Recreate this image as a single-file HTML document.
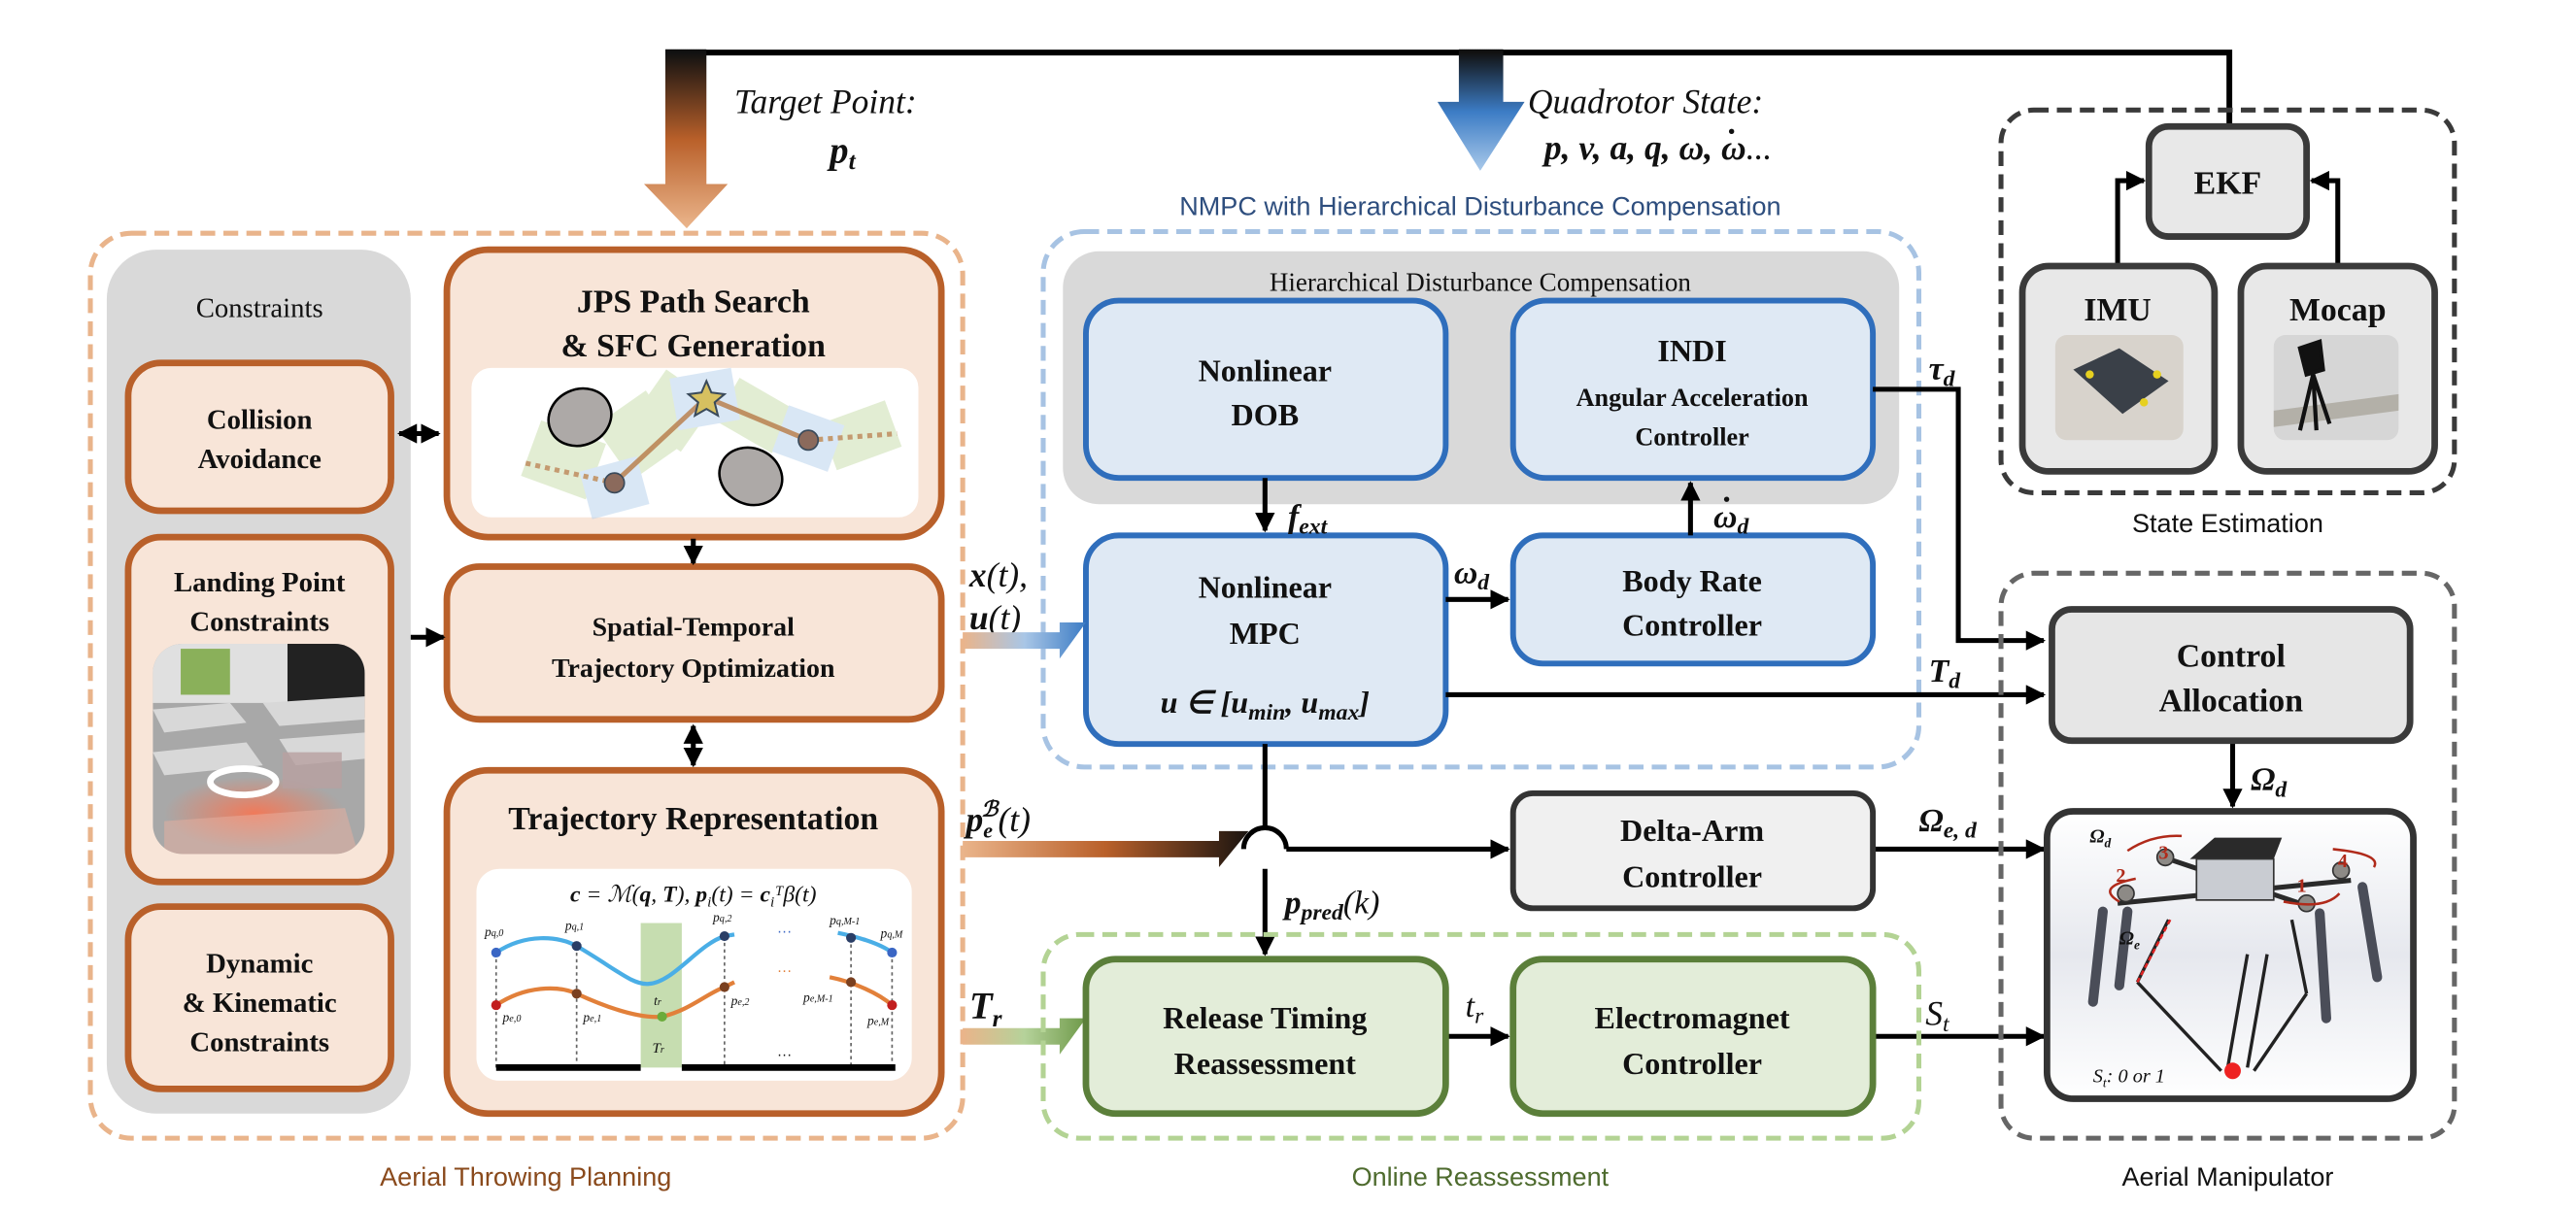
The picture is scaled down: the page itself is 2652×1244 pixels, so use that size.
<!DOCTYPE html>
<html><head><meta charset="utf-8"><style>
html,body{margin:0;padding:0;background:#fff}
svg{display:block}
.t{font-family:"Liberation Serif",serif;font-weight:bold;fill:#111;text-anchor:middle}
.m{font-family:"Liberation Serif",serif;font-style:italic;fill:#111}
.s{font-family:"Liberation Sans",sans-serif;text-anchor:middle}
</style></head><body>
<svg width="2652" height="1244" viewBox="0 0 1568 735.5" xmlns="http://www.w3.org/2000/svg">
<defs>
<linearGradient id="go" x1="0" y1="32" x2="0" y2="138" gradientUnits="userSpaceOnUse"><stop offset="0" stop-color="#111"/><stop offset="0.5" stop-color="#b9602a"/><stop offset="1" stop-color="#eab48a"/></linearGradient>
<linearGradient id="gb" x1="0" y1="32" x2="0" y2="104" gradientUnits="userSpaceOnUse"><stop offset="0" stop-color="#111"/><stop offset="0.5" stop-color="#3c7cc5"/><stop offset="1" stop-color="#a9c9ea"/></linearGradient>
<linearGradient id="gxu" x1="586" y1="0" x2="661" y2="0" gradientUnits="userSpaceOnUse"><stop offset="0" stop-color="#eab48a"/><stop offset="0.5" stop-color="#a9c6e6"/><stop offset="1" stop-color="#3c7cc5"/></linearGradient>
<linearGradient id="gpe" x1="586" y1="0" x2="760" y2="0" gradientUnits="userSpaceOnUse"><stop offset="0" stop-color="#eab48a"/><stop offset="0.5" stop-color="#b9602a"/><stop offset="1" stop-color="#1a1410"/></linearGradient>
<linearGradient id="gtr" x1="586" y1="0" x2="661" y2="0" gradientUnits="userSpaceOnUse"><stop offset="0" stop-color="#eab48a"/><stop offset="0.5" stop-color="#b5d29a"/><stop offset="1" stop-color="#6f9a4a"/></linearGradient>
<radialGradient id="glow" cx="0.5" cy="0.5" r="0.5"><stop offset="0" stop-color="#f07a5a"/><stop offset="1" stop-color="#f07a5a" stop-opacity="0"/></radialGradient>
<linearGradient id="man" x1="0" y1="0" x2="0" y2="1"><stop offset="0" stop-color="#fff"/><stop offset="0.5" stop-color="#e6e8ee"/><stop offset="1" stop-color="#fff"/></linearGradient>
<marker id="ah" viewBox="0 0 10 10" refX="9" refY="5" markerWidth="4" markerHeight="4" orient="auto-start-reverse"><path d="M0,0 L10,5 L0,10 z" fill="#000"/></marker>
</defs>

<path d="M405,32 H1357 V76" fill="none" stroke="#000" stroke-width="3.5"/>
<path d="M405,30 H430 V112 H443 L418,139 L392,112 H405 Z" fill="url(#go)"/>
<path d="M888,30 H915 V62 H928 L901,104 L875,62 H888 Z" fill="url(#gb)"/>
<text class="m" x="447" y="69" font-size="21">Target Point:</text>
<text class="m" x="505" y="99" font-size="23" font-weight="bold">p<tspan font-size="15" dy="4">t</tspan></text>
<text class="m" x="930" y="69" font-size="21">Quadrotor State:</text>
<text class="m" x="940" y="97" font-size="21" font-weight="bold">p, v, a, q, ω, ω<tspan font-weight="normal">...</tspan></text>
<circle cx="1054" cy="80" r="1.6" fill="#111"/>
<text class="s" x="901" y="131" font-size="16" fill="#2e4e7e">NMPC with Hierarchical Disturbance Compensation</text>

<rect x="55" y="142" width="531" height="551" rx="25" fill="none" stroke="#e9b48b" stroke-width="3" stroke-dasharray="9,5"/>
<rect x="65" y="152" width="185" height="526" rx="30" fill="#d9d9d9"/>
<text x="158" y="193" font-family="Liberation Serif,serif" font-size="17" text-anchor="middle" fill="#111">Constraints</text>
<g stroke="#b9602a" stroke-width="4" fill="#f8e5d8">
<rect x="78" y="221" width="160" height="90" rx="20"/>
<rect x="78" y="327" width="160" height="210" rx="20"/>
<rect x="78" y="552" width="160" height="111" rx="20"/>
<rect x="272" y="152" width="301" height="175" rx="25"/>
<rect x="272" y="345" width="301" height="93" rx="20"/>
<rect x="272" y="469" width="301" height="209" rx="25"/>
</g>
<text class="t" font-size="17"><tspan x="158" y="261">Collision</tspan><tspan x="158" y="285">Avoidance</tspan></text>
<text class="t" font-size="17"><tspan x="158" y="360">Landing Point</tspan><tspan x="158" y="384">Constraints</tspan></text>
<text class="t" font-size="17"><tspan x="158" y="592">Dynamic</tspan><tspan x="158" y="616">&amp; Kinematic</tspan><tspan x="158" y="640">Constraints</tspan></text>
<clipPath id="cp"><rect x="93" y="392" width="129" height="128" rx="18"/></clipPath>
<g clip-path="url(#cp)">
<rect x="93" y="392" width="129" height="128" fill="#a8a8a8"/>
<rect x="93" y="392" width="129" height="36" fill="#e0e0e0"/>
<rect x="110" y="395" width="30" height="28" fill="#8ab05a"/>
<rect x="175" y="392" width="47" height="45" fill="#222"/>
<path d="M93,432 L140,428 L150,440 L100,446Z M160,428 L222,424 L222,438 L170,442Z M93,458 L150,452 L160,466 L100,472Z M170,450 L222,446 L222,462 L180,466Z" fill="#d8d8d8"/>
<ellipse cx="155" cy="495" rx="55" ry="22" fill="url(#glow)"/>
<path d="M100,500 L210,492 L218,520 L100,520Z" fill="#e8b0a0" opacity="0.5"/>
<ellipse cx="148" cy="476" rx="20" ry="8" fill="none" stroke="#fff" stroke-width="4"/>
<rect x="172" y="458" width="36" height="22" fill="#b8a0a0" opacity="0.8"/>
</g>
<text class="t" font-size="20"><tspan x="422" y="190">JPS Path Search</tspan><tspan x="422" y="217">&amp; SFC Generation</tspan></text>
<rect x="287" y="224" width="272" height="91" rx="12" fill="#fff"/>
<g opacity="0.5">
<rect x="322" y="262" width="42" height="36" fill="#c7dca8" transform="rotate(20 343 280)"/>
<rect x="370" y="245" width="38" height="40" fill="#c7dca8" transform="rotate(-35 389 265)"/>
<rect x="392" y="232" width="36" height="36" fill="#c7dca8" transform="rotate(35 410 250)"/>
<rect x="440" y="238" width="40" height="30" fill="#c7dca8" transform="rotate(30 460 253)"/>
<rect x="503" y="250" width="42" height="30" fill="#c7dca8" transform="rotate(-20 524 265)"/>
<rect x="356" y="282" width="36" height="30" fill="#b5d0ec" transform="rotate(-15 374 297)"/>
<rect x="410" y="227" width="38" height="32" fill="#b5d0ec" transform="rotate(-10 429 243)"/>
<rect x="474" y="252" width="36" height="30" fill="#b5d0ec" transform="rotate(20 492 267)"/>
</g>
<ellipse cx="353" cy="254" rx="19.5" ry="17" fill="#ada9a7" stroke="#000" stroke-width="1.5" transform="rotate(-25 353 254)"/>
<ellipse cx="457" cy="290" rx="19.5" ry="17" fill="#ada9a7" stroke="#000" stroke-width="1.5" transform="rotate(25 457 290)"/>
<path d="M320,282 L374,294" stroke="#c49a70" stroke-width="3" stroke-dasharray="3,3"/>
<path d="M492,268 L546,264" stroke="#c49a70" stroke-width="3" stroke-dasharray="3,3"/>
<path d="M374,294 L430,242 L492,268" stroke="#b9804f" stroke-width="3" fill="none" opacity="0.85"/>
<circle cx="374" cy="294" r="6" fill="#8b6a5c" stroke="#3a4a5a"/>
<circle cx="492" cy="268" r="6" fill="#8b6a5c" stroke="#3a4a5a"/>
<path d="M430,232 L433,239 L441,240 L435,245 L437,253 L430,249 L423,253 L425,245 L419,240 L427,239Z" fill="#d6c060" stroke="#3a4a5a" stroke-width="1.2"/>
<text class="t" font-size="16.5"><tspan x="422" y="387">Spatial-Temporal</tspan><tspan x="422" y="412">Trajectory Optimization</tspan></text>
<text class="t" font-size="20" x="422" y="505">Trajectory Representation</text>
<rect x="290" y="529" width="265" height="129" rx="14" fill="#fff"/>
<text class="m" x="422" y="549" font-size="14" text-anchor="middle"><tspan font-weight="bold">c</tspan> = ℳ(<tspan font-weight="bold">q</tspan>, <tspan font-weight="bold">T</tspan>),  <tspan font-weight="bold">p</tspan><tspan font-size="9" dy="3">i</tspan><tspan dy="-3">(t) = </tspan><tspan font-weight="bold">c</tspan><tspan font-size="9" dy="3">i</tspan><tspan dy="-3">ᵀβ(t)</tspan></text>
<rect x="390" y="562" width="25" height="88" fill="#c6ddb0"/>
<g stroke="#666" stroke-width="1" stroke-dasharray="2,2"><path d="M302,580V650M351,576V650M441,570V650M518,571V650M543,580V650"/></g>
<path d="M302,580 C320,568 340,570 351,576 C375,590 385,600 395,599 C410,598 425,575 441,570 L447,569" stroke="#4aaee6" stroke-width="2.5" fill="none"/>
<path d="M510,568 C520,570 535,574 543,580" stroke="#4aaee6" stroke-width="2.5" fill="none"/>
<path d="M302,612 C320,600 340,600 351,605 C375,616 392,620 403,619 C420,615 430,605 441,601 L447,598" stroke="#e2803a" stroke-width="2.5" fill="none"/>
<path d="M505,595 C520,598 535,605 543,612" stroke="#e2803a" stroke-width="2.5" fill="none"/>
<g><circle cx="302" cy="580" r="3" fill="#3a66c4"/><circle cx="351" cy="576" r="3" fill="#2a3e66"/><circle cx="441" cy="570" r="3" fill="#2a3e66"/><circle cx="518" cy="571" r="3" fill="#2a3e66"/><circle cx="543" cy="580" r="3" fill="#3a66c4"/>
<circle cx="302" cy="612" r="3" fill="#c21e1e"/><circle cx="351" cy="605" r="3" fill="#7a4020"/><circle cx="403" cy="619" r="3" fill="#6aab3a"/><circle cx="441" cy="601" r="3" fill="#7a4020"/><circle cx="518" cy="598" r="3" fill="#7a4020"/><circle cx="543" cy="612" r="3" fill="#c21e1e"/></g>
<g class="m" font-size="8" fill="#3a5ab4"><text x="295" y="570">p<tspan font-size="6">q,0</tspan></text><text x="344" y="566">p<tspan font-size="6">q,1</tspan></text><text x="434" y="561">p<tspan font-size="6">q,2</tspan></text><text x="505" y="563">p<tspan font-size="6">q,M-1</tspan></text><text x="536" y="571">p<tspan font-size="6">q,M</tspan></text></g>
<g class="m" font-size="8" fill="#b0301e"><text x="306" y="622">p<tspan font-size="6">e,0</tspan></text><text x="355" y="622">p<tspan font-size="6">e,1</tspan></text><text x="445" y="612">p<tspan font-size="6">e,2</tspan></text><text x="489" y="610">p<tspan font-size="6">e,M-1</tspan></text><text x="528" y="624">p<tspan font-size="6">e,M</tspan></text></g>
<text x="473" y="570" font-size="9" fill="#3a66c4" font-family="Liberation Sans">···</text>
<text x="473" y="594" font-size="9" fill="#e2803a" font-family="Liberation Sans">···</text>
<text x="473" y="645" font-size="9" fill="#111" font-family="Liberation Sans">···</text>
<text class="m" x="398" y="612" font-size="8">t<tspan font-size="6">r</tspan></text>
<text class="m" x="397" y="641" font-size="9">T<tspan font-size="6">r</tspan></text>
<rect x="302" y="648" width="88" height="4" fill="#000"/><rect x="415" y="648" width="130" height="4" fill="#000"/>
<text class="s" x="320" y="722" font-size="16" fill="#8a4a1c">Aerial Throwing Planning</text>

<g stroke="#000" stroke-width="3" fill="none">
<path d="M243,264 H267" marker-start="url(#ah)" marker-end="url(#ah)"/>
<path d="M250,388 H270" marker-end="url(#ah)"/>
<path d="M422,328 V343" marker-end="url(#ah)"/>
<path d="M422,442 V466" marker-start="url(#ah)" marker-end="url(#ah)"/>
</g>

<rect x="635" y="141" width="533" height="326" rx="25" fill="none" stroke="#a7c3e3" stroke-width="3" stroke-dasharray="9,5"/>
<rect x="647" y="153" width="509" height="154" rx="22" fill="#d9d9d9"/>
<text x="901" y="177" font-family="Liberation Serif,serif" font-size="16" text-anchor="middle" fill="#111">Hierarchical Disturbance Compensation</text>
<g stroke="#2f6ebc" stroke-width="3.5" fill="#dfe9f4">
<rect x="661" y="183" width="219" height="108" rx="20"/>
<rect x="921" y="183" width="219" height="108" rx="20"/>
<rect x="661" y="326" width="219" height="127" rx="20"/>
<rect x="921" y="326" width="219" height="78" rx="18"/>
</g>
<text class="t" font-size="19"><tspan x="770" y="232">Nonlinear</tspan><tspan x="770" y="259">DOB</tspan></text>
<text class="t" font-size="19"><tspan x="1030" y="220">INDI</tspan></text>
<text class="t" font-size="15.5"><tspan x="1030" y="247">Angular Acceleration</tspan><tspan x="1030" y="271">Controller</tspan></text>
<text class="t" font-size="19"><tspan x="770" y="364">Nonlinear</tspan><tspan x="770" y="392">MPC</tspan></text>
<text class="m" x="770" y="434" font-size="19" text-anchor="middle" font-weight="bold">u ∈ [u<tspan font-size="14" dy="4">min</tspan><tspan dy="-4">, u</tspan><tspan font-size="14" dy="4">max</tspan><tspan dy="-4">]</tspan></text>
<text class="t" font-size="19"><tspan x="1030" y="360">Body Rate</tspan><tspan x="1030" y="387">Controller</tspan></text>
<g stroke="#000" stroke-width="3" fill="none">
<path d="M770,291 V323" marker-end="url(#ah)"/>
<path d="M1029,326 V294" marker-end="url(#ah)"/>
<path d="M880,365 H918" marker-end="url(#ah)"/>
<path d="M880,423 H1244" marker-end="url(#ah)"/>
<path d="M1140,237 H1192 V390 H1244" marker-end="url(#ah)"/>
<path d="M770,453 V505"/>
<path d="M783,517 H918" marker-end="url(#ah)"/>
<path d="M770,529 V581" marker-end="url(#ah)"/>
<path d="M880,631 H918" marker-end="url(#ah)"/>
<path d="M1140,517 H1244" marker-end="url(#ah)"/>
<path d="M1140,631 H1244" marker-end="url(#ah)"/>
<path d="M1359,451 V491" marker-end="url(#ah)"/>
<path d="M1289,162 V110 H1305" marker-end="url(#ah)"/>
<path d="M1423,162 V110 H1407" marker-end="url(#ah)"/>
</g>
<path d="M757,517 A13,13 0 0 1 783,517" stroke="#000" stroke-width="3" fill="none"/>
<text class="m" x="784" y="321" font-size="20" font-weight="bold">f<tspan font-size="14" dy="4">ext</tspan></text>
<text class="m" x="1043" y="321" font-size="20" font-weight="bold">ω<tspan font-size="14" dy="4">d</tspan></text>
<circle cx="1051" cy="304" r="1.6" fill="#111"/>
<text class="m" x="885" y="355" font-size="20" font-weight="bold">ω<tspan font-size="14" dy="4">d</tspan></text>
<text class="m" x="1174" y="231" font-size="20" font-weight="bold">τ<tspan font-size="14" dy="4">d</tspan></text>
<text class="m" x="1174" y="415" font-size="20" font-weight="bold">T<tspan font-size="14" dy="4">d</tspan></text>
<text class="m" x="1168" y="506" font-size="20" font-weight="bold">Ω<tspan font-size="14" dy="4">e, d</tspan></text>
<text class="m" x="1172" y="624" font-size="21">S<tspan font-size="14" dy="4">t</tspan></text>
<text class="m" x="892" y="619" font-size="20">t<tspan font-size="14" dy="4">r</tspan></text>
<text class="m" x="782" y="556" font-size="20" font-weight="bold">p<tspan font-size="14" dy="4">pred</tspan><tspan dy="-4" font-weight="normal">(k)</tspan></text>
<text class="m" x="590" y="357" font-size="21" font-weight="bold">x<tspan font-weight="normal">(t),</tspan></text>
<text class="m" x="590" y="383" font-size="21" font-weight="bold">u<tspan font-weight="normal">(t)</tspan></text>
<text class="m" x="588" y="506" font-size="21" font-weight="bold">p<tspan font-size="13" dy="4">e</tspan><tspan font-size="13" dx="-7" dy="-13">ℬ</tspan><tspan dy="9" font-weight="normal">(t)</tspan></text>
<text class="m" x="590" y="620" font-size="23" font-weight="bold">T<tspan font-size="15" dy="5">r</tspan></text>
<path d="M586,385 H645 V379 H661 L645,401 V395 H586 Z" fill="url(#gxu)"/>
<path d="M586,512 H742 V506 H760 L742,528 V522 H586 Z" fill="url(#gpe)"/>
<path d="M586,626 H645 V620 H661 L645,642 V636 H586 Z" fill="url(#gtr)"/>

<rect x="921" y="483" width="219" height="70" rx="12" fill="#f0f0f0" stroke="#333" stroke-width="3.5"/>
<text class="t" font-size="19"><tspan x="1030" y="512">Delta-Arm</tspan><tspan x="1030" y="540">Controller</tspan></text>
<rect x="635" y="569" width="533" height="124" rx="22" fill="none" stroke="#b3d394" stroke-width="3" stroke-dasharray="9,5"/>
<g stroke="#5b7f3a" stroke-width="4" fill="#e3edd9">
<rect x="661" y="584" width="219" height="94" rx="18"/>
<rect x="921" y="584" width="219" height="94" rx="18"/>
</g>
<text class="t" font-size="19"><tspan x="770" y="626">Release Timing</tspan><tspan x="770" y="654">Reassessment</tspan></text>
<text class="t" font-size="19"><tspan x="1030" y="626">Electromagnet</tspan><tspan x="1030" y="654">Controller</tspan></text>
<text class="s" x="901" y="722" font-size="16" fill="#4e6b2e">Online Reassessment</text>

<rect x="1218" y="67" width="276" height="233" rx="20" fill="none" stroke="#3a3a3a" stroke-width="3" stroke-dasharray="9,5"/>
<g stroke="#3a3a3a" stroke-width="4" fill="#e8e8e8">
<rect x="1308" y="77" width="96" height="67" rx="12"/>
<rect x="1231" y="162" width="117" height="125" rx="16"/>
<rect x="1364" y="162" width="118" height="125" rx="16"/>
</g>
<text class="t" font-size="20" x="1356" y="118">EKF</text>
<text class="t" font-size="20" x="1289" y="195">IMU</text>
<text class="t" font-size="20" x="1423" y="195">Mocap</text>
<rect x="1251" y="204" width="78" height="64" rx="7" fill="#d8d3cc"/>
<path d="M1262,225 L1290,212 L1320,232 L1292,252 Z" fill="#3a4048"/>
<circle cx="1272" cy="228" r="2.5" fill="#e6d020"/><circle cx="1305" cy="245" r="2.5" fill="#e6d020"/><circle cx="1313" cy="228" r="2.5" fill="#e6d020"/>
<rect x="1384" y="204" width="76" height="64" rx="7" fill="#d6d6d6"/>
<path d="M1384,250 L1460,240 L1460,250 L1384,260Z" fill="#b3b0a8"/>
<path d="M1400,212 L1412,208 L1414,225 L1404,228Z M1408,228 L1400,262 M1408,228 L1418,258 M1408,228 L1410,262" stroke="#111" stroke-width="2.5" fill="#111"/>
<text class="s" x="1356" y="324" font-size="16" fill="#111">State Estimation</text>

<rect x="1218" y="349" width="276" height="344" rx="20" fill="none" stroke="#666" stroke-width="3" stroke-dasharray="9,5"/>
<rect x="1249" y="371" width="218" height="80" rx="12" fill="#e6e6e6" stroke="#3a3a3a" stroke-width="4"/>
<text class="t" font-size="20"><tspan x="1358" y="406">Control</tspan><tspan x="1358" y="433">Allocation</tspan></text>
<text class="m" x="1370" y="481" font-size="20" font-weight="bold">Ω<tspan font-size="14" dy="4">d</tspan></text>
<rect x="1246" y="494" width="223" height="175" rx="16" fill="url(#man)" stroke="#333" stroke-width="4"/>
<g stroke="#4a4d58" stroke-width="6" fill="none" stroke-linecap="round">
<path d="M1280,555 L1274,610"/><path d="M1295,555 L1290,600"/>
<path d="M1438,540 L1447,595"/><path d="M1412,556 L1416,620"/>
</g>
<g stroke="#2a2a2a" stroke-width="3" fill="none"><path d="M1289,550 L1431,536"/><path d="M1317,522 L1400,550"/></g>
<path d="M1333,523 L1348,510 L1389,510 L1384,523Z" fill="#2a2a2a"/>
<rect x="1337" y="523" width="47" height="25" fill="#c9ccd2" stroke="#333"/>
<g fill="#8d8a86" stroke="#333"><circle cx="1294" cy="544" r="5"/><circle cx="1318" cy="522" r="5"/><circle cx="1425" cy="530" r="5"/><circle cx="1404" cy="550" r="5"/></g>
<g stroke="#222" stroke-width="2"><path d="M1301,598 L1352,652"/><path d="M1368,581 L1356,650"/><path d="M1380,581 L1368,650"/><path d="M1404,605 L1372,652"/><path d="M1320,560 L1301,598"/><path d="M1395,560 L1404,605"/></g>
<path d="M1321,560 L1301,598" stroke="#d22" stroke-width="1.5" stroke-dasharray="3,2"/>
<circle cx="1359" cy="652" r="5" fill="#e22"/>
<g stroke="#b02a1a" stroke-width="1.5" fill="none"><path d="M1295,518 Q1310,508 1328,509"/><path d="M1300,535 Q1275,540 1290,549"/><path d="M1420,517 Q1450,520 1445,528"/><path d="M1424,544 Q1415,554 1390,549"/></g>
<g font-family="Liberation Serif,serif" font-weight="bold" fill="#b02a1a" font-size="12"><text x="1314" y="523">3</text><text x="1288" y="537">2</text><text x="1423" y="528">4</text><text x="1398" y="543">1</text></g>
<text class="m" x="1272" y="513" font-size="12" fill="#b02a1a" font-weight="bold">Ω<tspan font-size="8" dy="3">d</tspan></text>
<text class="m" x="1290" y="575" font-size="12" fill="#b02a1a" font-weight="bold">Ω<tspan font-size="8" dy="3">e</tspan></text>
<text class="m" x="1274" y="659" font-size="12" fill="#b02a1a">S<tspan font-size="8" dy="3">t</tspan><tspan dy="-3">: 0 or 1</tspan></text>
<text class="s" x="1356" y="722" font-size="16" fill="#111">Aerial Manipulator</text>
</svg>
</body></html>
